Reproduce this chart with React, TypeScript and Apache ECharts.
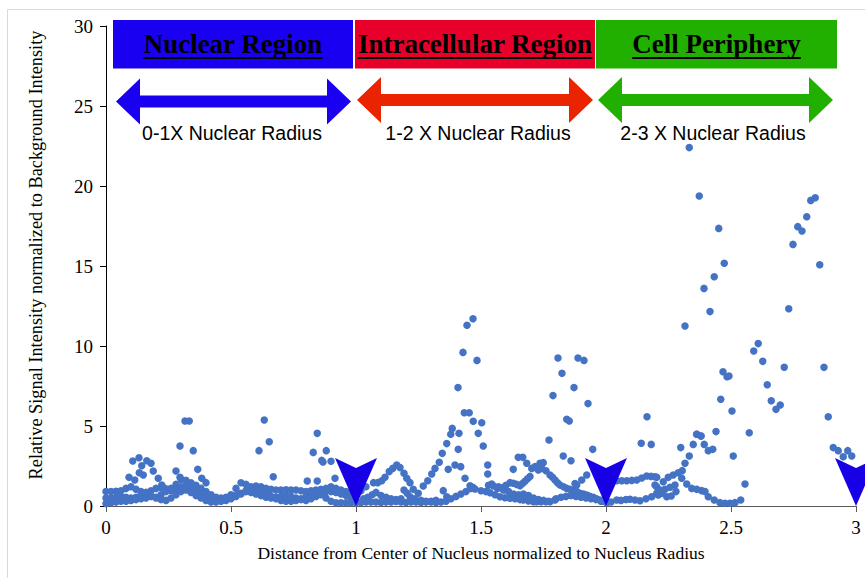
import React, { useEffect, useRef } from "react";
import * as echarts from "echarts";

// ---- Data ----
const xTicks = { min: 0, max: 3, interval: 0.5 };
const yTicks = { min: 0, max: 30, interval: 5 };

const regionNames = ["Nuclear Region", "Intracellular Region", "Cell Periphery"];
const regionRanges = ["0-1X Nuclear Radius", "1-2 X Nuclear Radius", "2-3 X Nuclear Radius"];
const boundaryMarkers: number[][] = [[1, 0], [2, 0], [3, 0]];

const profileA: number[][] = [
  [0, 0.9], [0.02, 0.9], [0.04, 0.92], [0.06, 0.95], [0.08, 1.1], [0.1, 1.2], [0.12, 1.05], [0.14, 0.9],
  [0.16, 0.75], [0.18, 0.62], [0.2, 0.55], [0.22, 0.7], [0.24, 0.9], [0.26, 1.1], [0.28, 1.35], [0.3, 1.65],
  [0.32, 1.6], [0.34, 1.45], [0.36, 1.3], [0.38, 1.1], [0.4, 0.9], [0.42, 0.7], [0.44, 0.55], [0.46, 0.5],
  [0.48, 0.55], [0.5, 0.7], [0.52, 1.1], [0.54, 1.45], [0.56, 1.35], [0.58, 1.2], [0.6, 1.25], [0.62, 1.2],
  [0.64, 1.1], [0.66, 1.05], [0.68, 1.0], [0.7, 1.0], [0.72, 1.02], [0.74, 1.0], [0.76, 1.0], [0.78, 0.95],
  [0.8, 0.9], [0.82, 0.95], [0.84, 1.0], [0.86, 1.05], [0.88, 1.1], [0.9, 1.2], [0.92, 1.1], [0.94, 1.0],
  [0.96, 0.9], [0.98, 0.8], [1.0, 0.7], [1.02, 0.95], [1.04, 1.2], [1.07, 1.46], [1.087, 1.46], [1.103, 1.58],
  [1.116, 1.79], [1.133, 2.15], [1.147, 2.35], [1.163, 2.56], [1.176, 2.4], [1.192, 2.04], [1.203, 1.73],
  [1.216, 1.46], [1.229, 1.04], [1.249, 0.79], [1.269, 1.25], [1.287, 1.58], [1.303, 2.0], [1.316, 2.35],
  [1.333, 2.73], [1.345, 3.29], [1.363, 3.9], [1.379, 4.48], [1.385, 4.85], [1.412, 4.54], [1.433, 5.83],
  [1.453, 5.83], [1.469, 5.3], [1.489, 4.54], [1.503, 5.2], [1.509, 3.75], [1.527, 2.56], [1.527, 2.0],
  [1.543, 1.38], [1.566, 1.1], [1.589, 1.15], [1.6, 1.3], [1.616, 1.46], [1.629, 1.42], [1.643, 1.35],
  [1.656, 1.27], [1.666, 1.4], [1.676, 1.54], [1.686, 1.7], [1.696, 1.85], [1.703, 2.35], [1.716, 2.46],
  [1.729, 2.25], [1.736, 2.67], [1.743, 2.35], [1.749, 2.71], [1.76, 2.2], [1.776, 1.94], [1.786, 1.8],
  [1.796, 1.63], [1.806, 1.45], [1.816, 1.31], [1.83, 1.2], [1.843, 1.1], [1.856, 1.05], [1.869, 1.0],
  [1.883, 0.9], [1.896, 0.79], [1.91, 0.75], [1.923, 0.69], [1.936, 0.6], [1.949, 0.54], [1.962, 0.45],
  [1.976, 0.38], [1.99, 0.3], [2.003, 0.2],
];

const profileB: number[][] = [
  [0, 0.5], [0.02, 0.5], [0.04, 0.55], [0.06, 0.6], [0.08, 0.55], [0.1, 0.5], [0.12, 0.55], [0.14, 0.65],
  [0.16, 0.85], [0.18, 0.95], [0.2, 1.1], [0.22, 1.15], [0.24, 1.05], [0.26, 0.95], [0.28, 1.05], [0.3, 1.2],
  [0.32, 1.3], [0.34, 1.15], [0.36, 0.95], [0.38, 0.75], [0.4, 0.55], [0.42, 0.45], [0.44, 0.35], [0.46, 0.3],
  [0.48, 0.35], [0.5, 0.45], [0.52, 0.6], [0.54, 0.8], [0.56, 0.95], [0.58, 1.05], [0.6, 1.0], [0.62, 0.9],
  [0.64, 0.8], [0.66, 0.6], [0.68, 0.45], [0.7, 0.35], [0.72, 0.3], [0.74, 0.3], [0.76, 0.35], [0.78, 0.45],
  [0.8, 0.6], [0.82, 0.75], [0.84, 0.8], [0.86, 0.85], [0.88, 0.9], [0.9, 0.9], [0.92, 0.85], [0.94, 0.75],
  [0.96, 0.65], [0.98, 0.5], [1.0, 0.35], [1.03, 0.45], [1.047, 0.54], [1.065, 0.7], [1.08, 0.85], [1.1, 0.65],
  [1.12, 0.55], [1.14, 0.45], [1.16, 0.4], [1.18, 0.45], [1.192, 1.0], [1.205, 0.8], [1.216, 0.58],
  [1.235, 0.45], [1.26, 0.35], [1.28, 0.3], [1.3, 0.3], [1.32, 0.35], [1.349, 0.96], [1.363, 0.58],
  [1.369, 2.29], [1.396, 2.56], [1.409, 3.54], [1.419, 2.46], [1.436, 1.73], [1.456, 1.27], [1.467, 1.17],
  [1.476, 1.06], [1.5, 0.95], [1.52, 0.9], [1.536, 0.83], [1.556, 0.7], [1.576, 0.58], [1.596, 0.52],
  [1.616, 0.48], [1.636, 0.45], [1.656, 0.4], [1.669, 0.38], [1.69, 0.32], [1.71, 0.27], [1.723, 0.27],
  [1.74, 0.27], [1.76, 0.27], [1.776, 0.27], [1.796, 0.38],
];

const profileC: number[][] = [
  [0, 0.15], [0.02, 0.2], [0.04, 0.25], [0.06, 0.3], [0.08, 0.3], [0.1, 0.35], [0.12, 0.4], [0.14, 0.45],
  [0.16, 0.5], [0.18, 0.6], [0.2, 0.5], [0.22, 0.4], [0.24, 0.35], [0.26, 0.5], [0.28, 0.7], [0.3, 0.9],
  [0.32, 1.0], [0.34, 0.85], [0.36, 0.65], [0.38, 0.5], [0.4, 0.35], [0.42, 0.25], [0.44, 0.25], [0.46, 0.35],
  [0.48, 0.45], [0.5, 0.55], [0.52, 0.65], [0.54, 0.75], [0.56, 0.9], [0.58, 0.85], [0.6, 0.75], [0.62, 0.65],
  [0.64, 0.55], [0.66, 0.5], [0.68, 0.55], [0.7, 0.6], [0.72, 0.65], [0.74, 0.6], [0.76, 0.5], [0.78, 0.4],
  [0.8, 0.35], [0.82, 0.45], [0.84, 0.6], [0.86, 0.7], [0.88, 0.5], [0.9, 0.3], [0.92, 0.2], [0.94, 0.2],
  [0.96, 0.2], [0.98, 0.2], [1.0, 0.2], [1.02, 0.22], [1.04, 0.25], [1.06, 0.25], [1.08, 0.25], [1.1, 0.22],
  [1.12, 0.25], [1.14, 0.25], [1.16, 0.28], [1.18, 0.25], [1.2, 0.22], [1.22, 0.25], [1.24, 0.25],
  [1.26, 0.22], [1.28, 0.25], [1.3, 0.25], [1.32, 0.22], [1.34, 0.25], [1.36, 0.3], [1.38, 0.45],
  [1.4, 0.6], [1.42, 0.75], [1.44, 0.9], [1.46, 1.1], [1.53, 1.3], [1.55, 1.25], [1.57, 1.2], [1.59, 1.0],
  [1.61, 0.9], [1.63, 0.75], [1.65, 0.7], [1.67, 0.75], [1.69, 0.65], [1.71, 0.5], [1.73, 0.4], [1.75, 0.35],
  [1.77, 0.3], [1.8, 0.45], [1.82, 0.55], [1.84, 0.6], [1.86, 0.65], [1.88, 0.6], [1.9, 0.55], [1.92, 0.5],
  [1.94, 0.45], [1.96, 0.4], [1.98, 0.3], [2.0, 0.25], [1.876, 1.4], [1.883, 1.31], [1.903, 1.63], [1.923, 1.94],
];

const profileD: number[][] = [
  [2.02, 1.5], [2.043, 1.58], [2.063, 1.58], [2.083, 1.58], [2.103, 1.6], [2.123, 1.63], [2.143, 1.75],
  [2.163, 1.875], [2.18, 1.85], [2.196, 1.83], [2.203, 1.79], [2.229, 1.52], [2.249, 1.79], [2.269, 1.94],
  [2.289, 2.08], [2.305, 2.21], [2.316, 2.67], [2.333, 3.125], [2.299, 3.65], [2.349, 3.85], [2.363, 4.48],
  [2.38, 4.375], [2.393, 3.85], [2.409, 3.46], [2.427, 3.54], [2.44, 4.65],
  [2.02, 0.25], [2.043, 0.38], [2.06, 0.35], [2.08, 0.4], [2.096, 0.42], [2.116, 0.38], [2.136, 0.33],
  [2.16, 0.45], [2.183, 0.58], [2.203, 0.79], [2.209, 0.69], [2.223, 0.79], [2.243, 0.58], [2.261, 0.63],
  [2.28, 0.9], [2.196, 1.31], [2.203, 1.21], [2.216, 1.0], [2.236, 1.04], [2.256, 1.17], [2.276, 1.31],
  [2.303, 1.73], [2.323, 1.375], [2.343, 1.1], [2.363, 1.04], [2.383, 0.96], [2.396, 0.9], [2.409, 0.58],
  [2.433, 0.38], [2.456, 0.21], [2.476, 0.17], [2.496, 0.17], [2.516, 0.21], [2.539, 0.38], [2.556, 1.375],
];

const nuclearHumps: number[][] = [
  [0.092, 1.79], [0.107, 2.81], [0.132, 3.02], [0.163, 2.83], [0.18, 2.67], [0.189, 2.19], [0.209, 1.73],
  [0.223, 1.31], [0.236, 1.1], [0.115, 1.63], [0.133, 2.08], [0.143, 2.52], [0.149, 1.94], [0.28, 2.19],
  [0.296, 1.79], [0.367, 2.29], [0.383, 1.73], [0.4, 1.46], [0.669, 1.83], [0.805, 1.56], [0.845, 1.56],
  [0.916, 1.73], [0.863, 2.85], [0.868, 2.75], [0.9, 2.8], [0.829, 3.35], [0.881, 3.46], [0.845, 4.54],
  [0.612, 3.46], [0.633, 5.375], [0.653, 4.02], [0.296, 3.75], [0.316, 5.31], [0.333, 5.31], [0.349, 3.46],
];

const peaks: number[][] = [
  [1.408, 7.4], [1.428, 9.6], [1.444, 11.3], [1.468, 11.7], [1.484, 9.1], [1.788, 6.9], [1.808, 9.25],
  [1.824, 8.3], [1.843, 5.42], [1.853, 5.31], [1.872, 7.4], [1.888, 9.25], [1.912, 9.1], [1.928, 6.4],
  [1.772, 4.13], [1.829, 3.125], [1.86, 2.83], [1.947, 3.54], [1.649, 3.04], [1.667, 3.04], [1.683, 2.67],
  [1.629, 2.29], [2.141, 3.92], [2.181, 3.85], [2.164, 5.58], [2.316, 11.25], [2.333, 22.4], [2.373, 19.37],
  [2.392, 13.6], [2.416, 12.15], [2.433, 14.33], [2.451, 17.35], [2.473, 15.17], [2.459, 6.67], [2.468, 8.39],
  [2.484, 8.08], [2.492, 8.125], [2.504, 5.94], [2.509, 3.125], [2.573, 4.58], [2.591, 9.69], [2.609, 10.15],
  [2.627, 9.04], [2.645, 7.58], [2.661, 6.58], [2.68, 6.04], [2.697, 6.31], [2.713, 8.67], [2.731, 12.33],
  [2.748, 16.35], [2.767, 17.46], [2.784, 17.19], [2.803, 18.08], [2.819, 19.1], [2.837, 19.27], [2.855, 15.08],
  [2.872, 8.67], [2.889, 5.58], [2.909, 3.65], [2.929, 3.46], [2.949, 3.08], [2.967, 3.46], [2.983, 3.125],
  [2.363, 4.48], [2.38, 4.375],
];

// ---- Styles ----
const DOT = "#4472C4";
const SERIF = '"Times New Roman", "Liberation Serif", serif';
const SANS = 'Arial, "Liberation Sans", sans-serif';
const boxColors = ["#1A00F0", "#E8002A", "#22B000"];
const arrowColors = ["#1A00F0", "#EA2400", "#22B000"];
const boxes = [
  { x: 113, w: 240 },
  { x: 355, w: 240 },
  { x: 596, w: 241 },
];
const arrows = [
  { l: 116, r: 351, cy: 101.5 },
  { l: 357, r: 593, cy: 100 },
  { l: 598, r: 833, cy: 100 },
];
const labelCenters = [232, 478, 713];

function arrowPoints(l: number, r: number, cy: number) {
  const head = 24, hh = 23, sh = 6;
  return [
    [l, cy], [l + head, cy - hh], [l + head, cy - sh], [r - head, cy - sh], [r - head, cy - hh],
    [r, cy], [r - head, cy + hh], [r - head, cy + sh], [l + head, cy + sh], [l + head, cy + hh],
  ];
}

export default function App() {
  const ref = useRef<HTMLDivElement>(null);
  useEffect(() => {
    if (!ref.current) return;
    const chart = echarts.init(ref.current, null, { renderer: "svg" });
    const ctx = document.createElement("canvas").getContext("2d")!;
    const titleFont = `bold 27px ${SERIF}`;
    ctx.font = titleFont;

    const graphics: any[] = [
      {
        type: "rect", z: 0, silent: true,
        shape: { x: 7.5, y: 9.5, width: 900, height: 600 },
        style: { fill: "none", stroke: "#D9D9D9", lineWidth: 1 },
      },
      {
        type: "text", x: 36, y: 255, rotation: Math.PI / 2,
        style: {
          text: "Relative Signal Intensity normalized to Background Intensity",
          font: `18.3px ${SERIF}`, fill: "#000", textAlign: "center", textVerticalAlign: "middle",
        },
      },
    ];
    boxes.forEach((b, i) => {
      const cx = b.x + b.w / 2;
      const tw = ctx.measureText(regionNames[i]).width;
      graphics.push({ type: "rect", shape: { x: b.x, y: 20, width: b.w, height: 48.5 }, style: { fill: boxColors[i] } });
      graphics.push({
        type: "text", x: cx, y: 44,
        style: { text: regionNames[i], font: titleFont, fill: "#000", textAlign: "center", textVerticalAlign: "middle" },
      });
      graphics.push({ type: "rect", shape: { x: cx - tw / 2, y: 57, width: tw, height: 2 }, style: { fill: "#000" } });
      const a = arrows[i];
      graphics.push({ type: "polygon", shape: { points: arrowPoints(a.l, a.r, a.cy) }, style: { fill: arrowColors[i] } });
      graphics.push({
        type: "text", x: labelCenters[i], y: 133,
        style: { text: regionRanges[i], font: `19.5px ${SANS}`, fill: "#000", textAlign: "center", textVerticalAlign: "middle" },
      });
    });

    const dotSeries = [profileA, profileB, profileC, profileD, nuclearHumps, peaks].map((d) => ({
      type: "scatter",
      data: d,
      symbol: "circle",
      symbolSize: 7.5,
      itemStyle: { color: DOT, opacity: 1 },
      z: 2,
    }));

    chart.setOption({
      animation: false,
      grid: { left: 106, right: 9, top: 26, bottom: 72 },
      xAxis: {
        type: "value", min: xTicks.min, max: xTicks.max, interval: xTicks.interval,
        name: "Distance from Center of Nucleus normalized to Nucleus Radius",
        nameLocation: "middle", nameGap: 38,
        nameTextStyle: { fontFamily: SERIF, fontSize: 17.5, color: "#000" },
        axisLine: { lineStyle: { color: "#595959", width: 1 } },
        axisTick: { show: true, length: 6, lineStyle: { color: "#595959" } },
        axisLabel: { fontFamily: SERIF, fontSize: 19, color: "#000", margin: 12 },
        splitLine: { show: false },
      },
      yAxis: {
        type: "value", min: yTicks.min, max: yTicks.max, interval: yTicks.interval,
        axisLine: { show: true, lineStyle: { color: "#000", width: 1 } },
        axisTick: { show: true, length: 6, lineStyle: { color: "#000" } },
        axisLabel: { fontFamily: SERIF, fontSize: 19, color: "#000", margin: 13 },
        splitLine: { show: false },
      },
      series: [
        ...dotSeries,
        {
          type: "scatter",
          data: boundaryMarkers,
          symbol: "path://M0,0 L21,10 L42,0 L21,48 Z",
          symbolSize: [42, 48],
          symbolOffset: [0, "-50%"],
          itemStyle: { color: "#1800E6", opacity: 1 },
          clip: false,
          z: 5,
        },
      ],
      graphic: graphics,
    });
    return () => chart.dispose();
  }, []);
  return <div ref={ref} style={{ position: "fixed", left: 0, top: 0, width: 865, height: 578, background: "#fff" }} />;
}
